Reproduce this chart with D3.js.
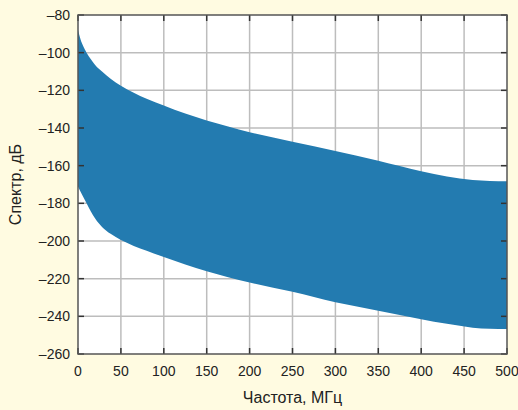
<!DOCTYPE html>
<html>
<head>
<meta charset="utf-8">
<script src="https://cdn.jsdelivr.net/npm/d3@7"></script>
<style>
  body { margin: 0; background: #fffbe1; }
  svg text { font-family: "Liberation Sans", Arial, sans-serif; fill: #222; }
</style>
</head>
<body>
<div id="chart"></div>
<script>
// data
const freq = [0, 3, 6, 10, 15, 20, 28, 38, 50, 65, 80, 100, 125, 150, 175, 200, 250, 300, 350, 400, 430, 460, 480, 500];
const upper = [-88, -93, -96.5, -100, -103.5, -106.5, -110, -113.8, -117.5, -121.3, -124.5, -128, -132.3, -136, -139.2, -142.2, -147.3, -152.2, -157.4, -163, -165.8, -167.6, -168.1, -168.3];
const lower = [-171, -173.8, -176.5, -180, -184.3, -188, -192.5, -196.2, -199.5, -202.6, -205.2, -208.5, -212.5, -216, -219.2, -222, -227, -232.5, -237, -241.5, -244, -246, -246.6, -246.7];
const xTicks = [0, 50, 100, 150, 200, 250, 300, 350, 400, 450, 500];
const yTicks = [-80, -100, -120, -140, -160, -180, -200, -220, -240, -260];

const W = 518, H = 410;
const margin = { top: 15, right: 11, bottom: 56, left: 78 };
const iw = W - margin.left - margin.right;
const ih = H - margin.top - margin.bottom;

const svg = d3.select("#chart").append("svg").attr("width", W).attr("height", H);
svg.append("rect").attr("width", W).attr("height", H).attr("fill", "#fffbe1");

const g = svg.append("g").attr("transform", `translate(${margin.left},${margin.top})`);

const x = d3.scaleLinear().domain([0, 500]).range([0, iw]);
const y = d3.scaleLinear().domain([-260, -80]).range([ih, 0]);

g.append("rect").attr("width", iw).attr("height", ih).attr("fill", "#fff");

// grid
g.selectAll(".gx").data(xTicks.slice(1, -1)).enter().append("line")
  .attr("x1", d => x(d)).attr("x2", d => x(d)).attr("y1", 0).attr("y2", ih)
  .attr("stroke", "#bdbdbd").attr("stroke-width", 1.5);
g.selectAll(".gy").data(yTicks.slice(1, -1)).enter().append("line")
  .attr("y1", d => y(d)).attr("y2", d => y(d)).attr("x1", 0).attr("x2", iw)
  .attr("stroke", "#bdbdbd").attr("stroke-width", 1.5);

// band
const pts = freq.map((f, i) => ({ f, hi: upper[i], lo: lower[i] }));
const area = d3.area()
  .curve(d3.curveMonotoneX)
  .x(d => x(d.f))
  .y0(d => y(d.lo))
  .y1(d => y(d.hi));
g.append("path").datum(pts).attr("d", area).attr("fill", "#237bb0");

// inner ticks on all sides
const tk = 6;
g.selectAll(".tb").data(xTicks).enter().append("line")
  .attr("x1", d => x(d)).attr("x2", d => x(d)).attr("y1", ih).attr("y2", ih - tk)
  .attr("stroke", "#333").attr("stroke-width", 1.5);
g.selectAll(".tt").data(xTicks).enter().append("line")
  .attr("x1", d => x(d)).attr("x2", d => x(d)).attr("y1", 0).attr("y2", tk)
  .attr("stroke", "#333").attr("stroke-width", 1.5);
g.selectAll(".tl").data(yTicks).enter().append("line")
  .attr("y1", d => y(d)).attr("y2", d => y(d)).attr("x1", 0).attr("x2", tk)
  .attr("stroke", "#333").attr("stroke-width", 1.5);
g.selectAll(".tr").data(yTicks).enter().append("line")
  .attr("y1", d => y(d)).attr("y2", d => y(d)).attr("x1", iw).attr("x2", iw - tk)
  .attr("stroke", "#333").attr("stroke-width", 1.5);

// frame
g.append("rect").attr("width", iw).attr("height", ih)
  .attr("fill", "none").attr("stroke", "#555").attr("stroke-width", 1.5);

// tick labels
g.selectAll(".lx").data(xTicks).enter().append("text")
  .attr("x", d => x(d)).attr("y", ih + 22)
  .attr("text-anchor", "middle").attr("font-size", 14)
  .text(d => d);
g.selectAll(".ly").data(yTicks).enter().append("text")
  .attr("x", -8).attr("y", d => y(d)).attr("dy", "0.36em")
  .attr("text-anchor", "end").attr("font-size", 14)
  .text(d => "\u2013" + Math.abs(d));

// axis titles
svg.append("text")
  .attr("x", margin.left + iw / 2).attr("y", 403)
  .attr("text-anchor", "middle").attr("font-size", 16)
  .text("Частота, МГц");
svg.append("text")
  .attr("transform", `translate(21,${margin.top + ih / 2}) rotate(-90)`)
  .attr("text-anchor", "middle").attr("font-size", 16)
  .text("Спектр, дБ");
</script>
</body>
</html>
